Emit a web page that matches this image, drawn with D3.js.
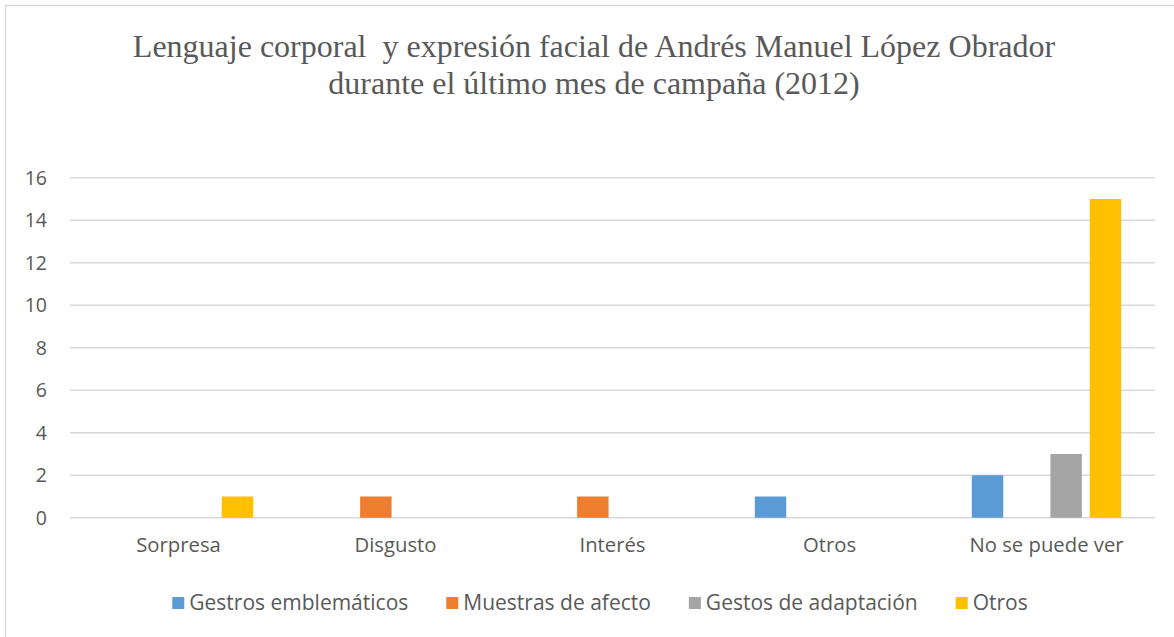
<!DOCTYPE html>
<html>
<head>
<meta charset="utf-8">
<script src="https://cdn.jsdelivr.net/npm/d3@7"></script>
<style>
  html, body { margin: 0; padding: 0; background: #fff; }
  svg { display: block; }
  .title text { white-space: pre; }
</style>
</head>
<body>
<svg id="chart" width="1174" height="637"></svg>
<script>
// Categories along the x axis
const categories = ["Sorpresa", "Disgusto", "Interés", "Otros", "No se puede ver"];

// Series and their counts per category
const seriesNames = ["Gestros emblemáticos", "Muestras de afecto", "Gestos de adaptación", "Otros"];
const gestosEmblematicos = [0, 0, 0, 1, 2];
const muestrasDeAfecto   = [0, 1, 1, 0, 0];
const gestosDeAdaptacion = [0, 0, 0, 0, 3];
const otros              = [1, 0, 0, 0, 15];
const seriesValues = [gestosEmblematicos, muestrasDeAfecto, gestosDeAdaptacion, otros];
const seriesColors = ["#5B9BD5", "#ED7D31", "#A5A5A5", "#FFC000"];

// Y axis ticks
const yTicks = [0, 2, 4, 6, 8, 10, 12, 14, 16];

const titleLines = [
  "Lenguaje corporal  y expresión facial de Andrés Manuel López Obrador",
  "durante el último mes de campaña (2012)"
];

const svg = d3.select("#chart");
const textColor = "#595959";
const sansFont = "'Open Sans', Lato, sans-serif";

// Chart frame
svg.append("rect")
  .attr("x", 5.5).attr("y", 5.5)
  .attr("width", 1200).attr("height", 700)
  .attr("fill", "#fff")
  .attr("stroke", "#d9d9d9").attr("stroke-width", 1.5);

// Title
svg.append("g").attr("class", "title").selectAll("text")
  .data(titleLines)
  .join("text")
  .attr("x", 594)
  .attr("y", (d, i) => 57 + i * 37)
  .attr("text-anchor", "middle")
  .attr("font-family", "'Liberation Serif', 'Times New Roman', serif")
  .attr("font-size", 32)
  .attr("fill", textColor)
  .text(d => d);

const plot = { left: 70, right: 1155, top: 177.75, bottom: 517.75 };

const y = d3.scaleLinear().domain([0, 16]).range([plot.bottom, plot.top]);

const x0 = d3.scaleBand()
  .domain(categories)
  .range([plot.left, plot.right])
  .paddingInner(0).paddingOuter(0);

const x1 = d3.scaleBand()
  .domain(seriesNames)
  .range([0, x0.bandwidth()])
  .paddingInner(0.2)
  .paddingOuter(0.86);

// Gridlines
svg.append("g")
  .selectAll("line")
  .data(yTicks)
  .join("line")
  .attr("x1", plot.left).attr("x2", plot.right)
  .attr("y1", d => y(d)).attr("y2", d => y(d))
  .attr("stroke", "#d9d9d9").attr("stroke-width", 1.5);

// Y axis labels
const yAxis = d3.axisLeft(y).tickValues(yTicks).tickSize(0).tickPadding(0);
const yG = svg.append("g")
  .attr("transform", `translate(47,0)`)
  .call(yAxis);
yG.select(".domain").remove();
yG.selectAll("text")
  .attr("font-family", sansFont)
  .attr("font-size", 19.5)
  .attr("fill", textColor);

// Bars
const groups = svg.append("g")
  .selectAll("g")
  .data(categories)
  .join("g")
  .attr("transform", d => `translate(${x0(d)},0)`);

groups.selectAll("rect")
  .data((c, ci) => seriesNames.map((s, si) => ({ s, v: seriesValues[si][ci], color: seriesColors[si] })))
  .join("rect")
  .filter(d => d.v > 0)
  .attr("x", d => x1(d.s))
  .attr("width", x1.bandwidth())
  .attr("y", d => y(d.v))
  .attr("height", d => y(0) - y(d.v))
  .attr("fill", d => d.color);

// X axis labels
const xAxis = d3.axisBottom(x0).tickSize(0).tickPadding(0);
const xG = svg.append("g")
  .attr("transform", `translate(0,538)`)
  .call(xAxis);
xG.select(".domain").remove();
xG.selectAll("text")
  .attr("font-family", sansFont)
  .attr("font-size", 20.3)
  .attr("fill", textColor);

// Legend
const legend = svg.append("g").attr("transform", "translate(0,603)");
const items = legend.selectAll("g")
  .data(seriesNames)
  .join("g");
items.append("rect")
  .attr("width", 12).attr("height", 12)
  .attr("y", -6)
  .attr("fill", (d, i) => seriesColors[i]);
items.append("text")
  .attr("x", 17)
  .attr("dy", "0.35em")
  .attr("font-family", sansFont)
  .attr("font-size", 21)
  .attr("fill", textColor)
  .text(d => d);

const gap = 38;
let widths = [];
items.each(function () {
  widths.push(17 + d3.select(this).select("text").node().getComputedTextLength());
});
const total = d3.sum(widths) + gap * (widths.length - 1);
let cx = 600 - total / 2;
items.attr("transform", (d, i) => {
  const t = `translate(${cx},0)`;
  cx += widths[i] + gap;
  return t;
});
</script>
</body>
</html>
